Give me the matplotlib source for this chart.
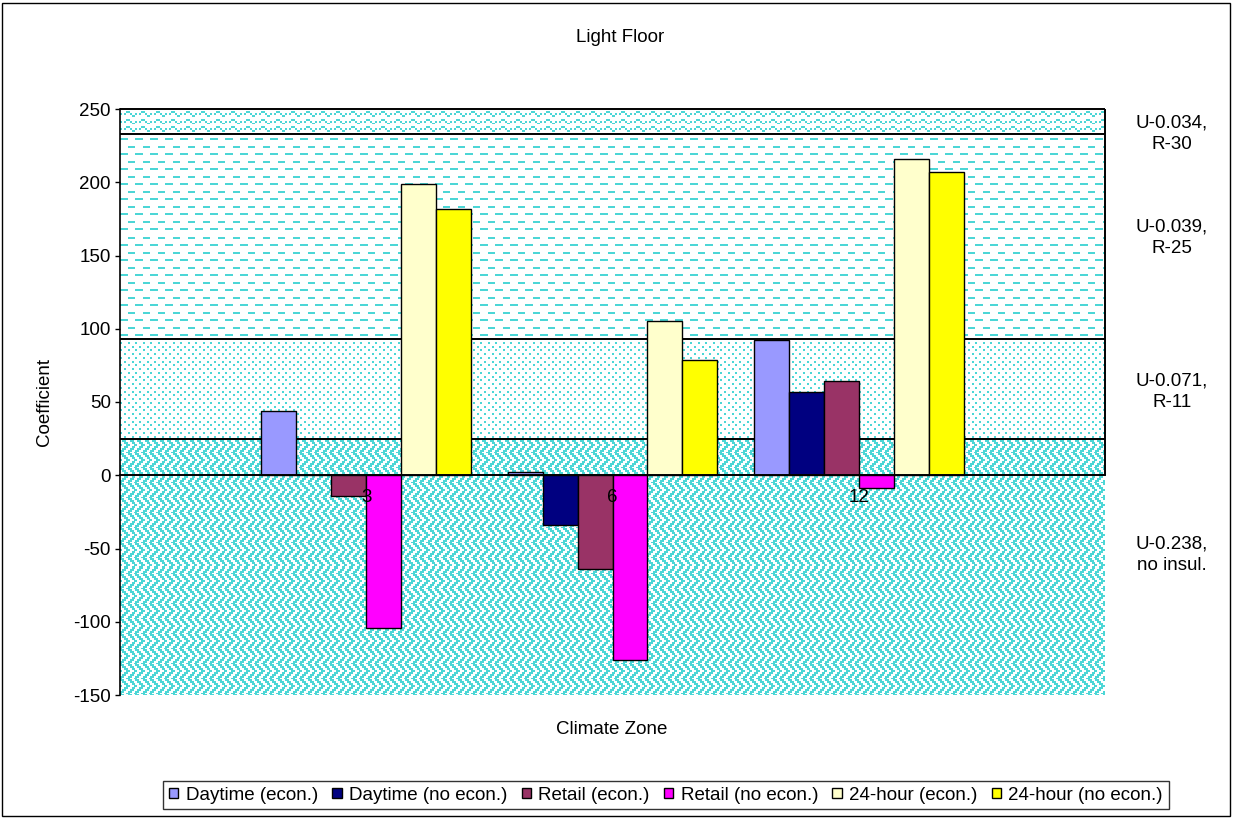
import numpy as np
import matplotlib
matplotlib.use("Agg")
import matplotlib.pyplot as plt
from matplotlib.patches import Rectangle

plt.rcParams['font.family'] = ['Liberation Sans', 'DejaVu Sans']
plt.rcParams['font.size'] = 13.5
plt.rcParams['axes.unicode_minus'] = False

# --- data ---
zones = ['3', '6', '12']
series = ['Daytime (econ.)', 'Daytime (no econ.)', 'Retail (econ.)',
          'Retail (no econ.)', '24-hour (econ.)', '24-hour (no econ.)']
daytime_econ = [44, 2.5, 92]
daytime_no_econ = [0, -34, 56.5]
retail_econ = [-14.5, -64, 64.5]
retail_no_econ = [-104, -126, -8.5]
h24_econ = [198.5, 105, 216]
h24_no_econ = [181.5, 79, 207]
values = [daytime_econ, daytime_no_econ, retail_econ, retail_no_econ, h24_econ, h24_no_econ]
colors = ['#9999FF', '#000080', '#993366', '#FF00FF', '#FFFFCC', '#FFFF00']

# insulation bands and their labels
band_edges = [-150, 25, 93, 233, 250]
band_lines = [25, 93, 233, 250]
band_labels = ['U-0.034,\nR-30', 'U-0.039,\nR-25', 'U-0.071,\nR-11', 'U-0.238,\nno insul.']
band_label_y = [233, 162, 57, -54]

# 8x8 Excel-like fill patterns, bottom band upwards
weave = [0xCC, 0x66, 0x33, 0x99, 0x33, 0x66, 0xCC, 0x99]
pct20 = [0x88, 0x00, 0x22, 0x00, 0x88, 0x00, 0x22, 0x00]
dashed = [0xF0, 0x00, 0x00, 0x00, 0x0F, 0x00, 0x00, 0x00]
wave = [0x00, 0x18, 0xA4, 0x03, 0x00, 0x18, 0xA4, 0x03]
patterns = [weave, pct20, dashed, wave]

CYAN = np.array([0.30, 0.84, 0.84])
AX_W, AX_H = 985, 586
SCALE = 1.875   # screen pixels per pattern bit

fig = plt.figure(figsize=(12.33, 8.19), dpi=100)
ax = fig.add_axes([120 / 1233, 1 - 695 / 819, AX_W / 1233, AX_H / 819])


def texture(bits, lo, hi):
    tile = np.array([[(b >> (7 - k)) & 1 for k in range(8)] for b in bits], float)
    rows = int(round((hi - lo) / 400 * AX_H))
    top = int(round((250 - hi) / 400 * AX_H))
    r = ((np.arange(rows) + top) / SCALE).astype(int) % 8
    c = (np.arange(AX_W) / SCALE).astype(int) % 8
    a = tile[r[:, None], c[None, :]]
    img = 1 - a[..., None] * (1 - CYAN)
    ax.imshow(img, extent=(0, 4, lo, hi), aspect='auto',
              interpolation='nearest', zorder=0)


for bits, lo, hi in zip(patterns, band_edges[:-1], band_edges[1:]):
    texture(bits, lo, hi)

ax.hlines(band_lines, 0, 4, colors='black', lw=1.4, zorder=2.1, clip_on=False)
ax.vlines(4, 0, 250, colors='black', lw=1.4, zorder=2.1, clip_on=False)

# --- bars ---
x = np.arange(1, len(zones) + 1)
w = 0.142
for i, (name, vals) in enumerate(zip(series, values)):
    ax.bar(x + (i - 2.5) * w, vals, w, color=colors[i], edgecolor='black',
           linewidth=1, label=name, zorder=2.3)

ax.set_axisbelow(False)
ax.set_xlim(0, 4)
ax.set_ylim(-150, 250)
ax.set_yticks(np.arange(-150, 251, 50))
ax.set_xticks(x, zones)

for s in ['top', 'right']:
    ax.spines[s].set_visible(False)
ax.spines['bottom'].set_position(('data', 0))
ax.spines['bottom'].set_linewidth(1.4)
ax.spines['left'].set_linewidth(1.2)
ax.tick_params(axis='x', length=0, pad=10)
ax.tick_params(axis='y', direction='out', length=3.6, width=1, pad=3)

# band labels at the right
for txt, yv in zip(band_labels, band_label_y):
    ax.text(1.068, yv, txt, transform=ax.get_yaxis_transform(), ha='center',
            va='center', linespacing=1.35)

fig.text(620 / 1233, 1 - 37 / 819, 'Light Floor', ha='center', va='center')
fig.text(612 / 1233, 1 - 729 / 819, 'Climate Zone', ha='center', va='center')
fig.text(45 / 1233, 1 - 402 / 819, 'Coefficient', ha='center', va='center',
         rotation=90)

leg = fig.legend(loc='center', bbox_to_anchor=(666 / 1233, 1 - 795 / 819), ncol=6,
                 frameon=True, fancybox=False, edgecolor='black',
                 handlelength=0.5, handleheight=0.5, handletextpad=0.4,
                 columnspacing=0.75, borderpad=0.3, borderaxespad=0)
leg.get_frame().set_linewidth(1)

fig.patches.append(Rectangle((2 / 1233, 3 / 819), 1228 / 1233, 813 / 819,
                             transform=fig.transFigure, fill=False,
                             edgecolor='black', lw=1))

fig.savefig('out.png', dpi=100)
